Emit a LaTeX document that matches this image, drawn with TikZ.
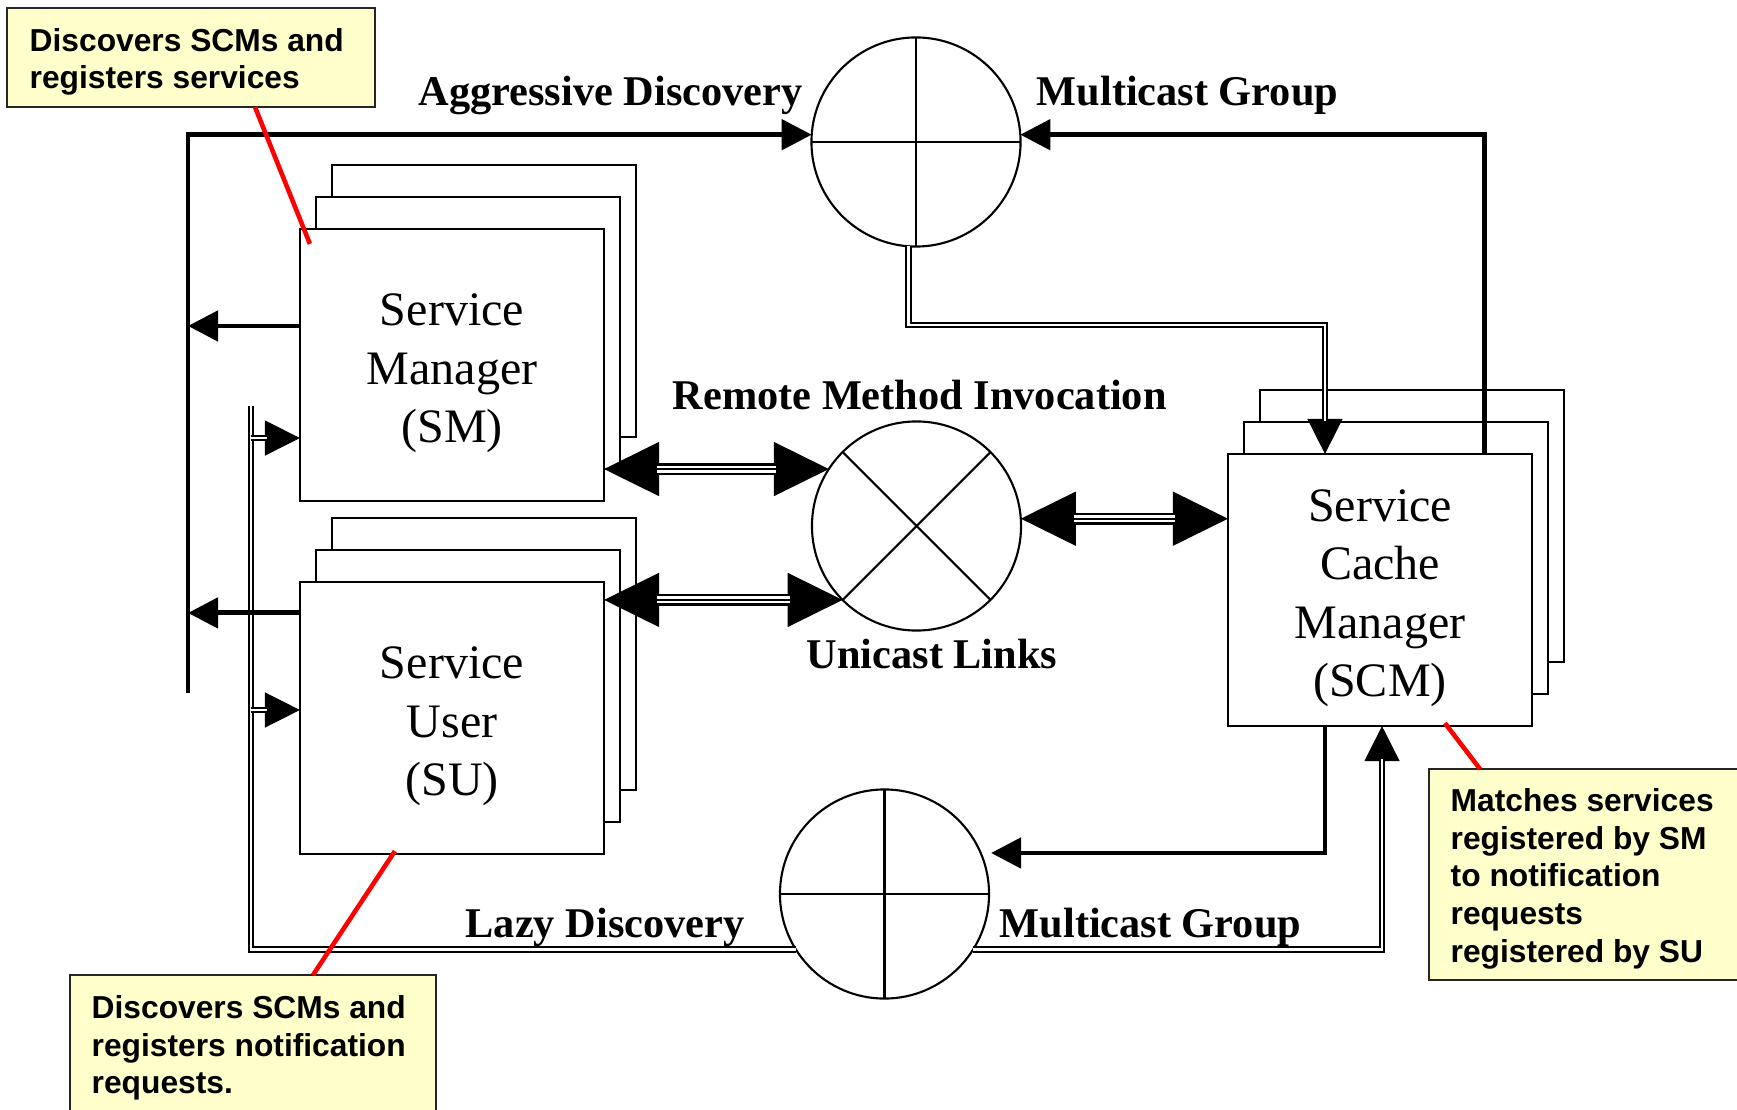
\documentclass[tikz,border=0pt]{standalone}
\usepackage{fontspec}
\setmainfont{Liberation Serif}
\newfontfamily\calloutfont{Liberation Sans}
\usetikzlibrary{arrows.meta,calc,backgrounds}
\definecolor{notefill}{HTML}{FFFFCC}
\newcommand\boxlift{\rule{0pt}{13.8pt}}
\begin{document}
\begin{tikzpicture}[x=0.01cm, y=-0.01cm,
  mainbox/.style={draw, fill=white, line width=0.6pt, minimum width=3.04cm, minimum height=2.72cm,
    inner sep=0pt, outer sep=0pt, align=center, font=\fontsize{13.66pt}{16.6pt}\selectfont},
  copybox/.style={draw, fill=white, line width=0.6pt},
  mcast/.style={circle, draw, fill=white, line width=0.6pt, minimum size=2.09cm, inner sep=0pt, outer sep=0pt},
  crossline/.style={line width=0.6pt},
  lbl/.style={inner sep=0pt, anchor=base west, font=\fontsize{12.04pt}{14pt}\selectfont\bfseries},
  notebox/.style={draw=black!85, fill=notefill, line width=0.5pt, anchor=north west, inner sep=0pt, outer sep=0pt},
  notetext/.style={anchor=north west, inner sep=0pt, align=left,
    font=\calloutfont\bfseries\fontsize{9.03pt}{10.8pt}\selectfont},
  redline/.style={draw=red, line width=1.3pt},
  thickarrow/.style={line width=1.4pt, -{Triangle[length=0.30cm, width=0.30cm]}},
  dbl/.style={double, double distance=0.71pt, line width=0.57pt},
  dbltip/.style={line width=0.4pt, -{Triangle[length=0.35cm, width=0.35cm]}},
  rmitip/.style={line width=0.4pt, {Triangle[length=0.55cm, width=0.54cm]}-{Triangle[length=0.55cm, width=0.54cm]}},
  rmishaft/.style={line width=3.4pt, shorten <=0.53cm, shorten >=0.53cm,
    postaction={draw=white, line width=2pt, shorten <=0.53cm, shorten >=0.53cm},
    postaction={draw=black, line width=0.57pt, shorten <=0.53cm, shorten >=0.53cm}},
]
\useasboundingbox (0,0) rectangle (1737,1110);

% main boxes
\node[mainbox] (sm) at (452,365) {\boxlift Service\\Manager\\(SM)};
\node[mainbox] (su) at (452,718) {\boxlift Service\\User\\(SU)};
\node[mainbox] (scm) at (1380,590) {\boxlift Service\\Cache\\Manager\\(SCM)};
\begin{scope}[on background layer]
  \fill[white] (0,0) rectangle (1737,1110);
  \foreach \b in {sm,su,scm}{
    \draw[copybox] ($(\b.south west)+(32,-64)$) rectangle ($(\b.north east)+(32,-64)$);
    \draw[copybox] ($(\b.south west)+(16,-32)$) rectangle ($(\b.north east)+(16,-32)$);
  }
\end{scope}

% multicast / unicast circles
\node[mcast] (tc) at (916,142) {};
\node[mcast] (mc) at (916.5,526) {};
\node[mcast] (lc) at (884.5,894) {};
\draw[crossline] (tc.north) -- (tc.south) (tc.west) -- (tc.east);
\draw[crossline] (mc.45) -- (mc.225) (mc.135) -- (mc.315);
\draw[crossline] (lc.north) -- (lc.south) (lc.west) -- (lc.east);

% labels
\node[lbl] (agg) at (418,106) {Aggressive Discovery};
\node[lbl] (mg1) at (1036,106) {Multicast Group};
\node[lbl] (rmi) at (672,410) {Remote Method Invocation};
\node[lbl] (uni) at (806,668) {Unicast Links};
\node[lbl] (lazy) at (465,937) {Lazy Discovery};
\node[lbl] (mg2) at (999,937) {Multicast Group};

% helper coordinates
\coordinate (barbot) at (188,693);
\coordinate (lazytop) at (251,406);
\coordinate (smout) at ([yshift=0.39cm]sm.west);
\coordinate (suout) at ([yshift=1.05cm]su.west);
\coordinate (smin) at ([yshift=-0.73cm]sm.west);
\coordinate (suin) at ([yshift=0.08cm]su.west);
\coordinate (scmin) at ([xshift=-0.55cm]scm.north);
\coordinate (scmout) at ([xshift=-0.55cm]scm.south);
\coordinate (scmup) at ([xshift=0.02cm]scm.south);
\coordinate (scmtop) at ([xshift=1.04cm]scm.north);

% lazy discovery double lines
\draw[dbl] (lc.212) -| (lazytop);
\draw[dbltip] (smin -| lazytop) -- (smin);
\draw[dbl, shorten >=0.33cm] (smin -| lazytop) -- (smin);
\draw[dbltip] (suin -| lazytop) -- (suin);
\draw[dbl, shorten >=0.33cm] (suin -| lazytop) -- (suin);
\draw[dbltip] (lc.328) -| (scmup);
\draw[dbl, shorten >=0.33cm] (lc.328) -| (scmup);

% top multicast group to SCM
\draw[dbltip] (tc.266) |- ([yshift=1.29cm]scmin) -- (scmin);
\draw[dbl, shorten >=0.33cm] (tc.266) |- ([yshift=1.29cm]scmin) -- (scmin);

% aggressive discovery thick lines
\draw[thickarrow] (barbot) |- (tc.176);
\draw[thickarrow] (scmtop) |- (tc.4);
\draw[thickarrow] (smout) -- (smout -| barbot);
\draw[thickarrow] (suout) -- (suout -| barbot);
\draw[thickarrow] (scmout) |- ([xshift=0.02cm, yshift=0.41cm]lc.east);

% remote method invocation
\draw[rmitip] (sm.east |- mc.147) -- (mc.147);
\draw[rmishaft] (sm.east |- mc.147) -- (mc.147);
\draw[rmitip] (su.east |- mc.225) -- (mc.225);
\draw[rmishaft] (su.east |- mc.225) -- (mc.225);
\draw[rmitip] (mc.4) -- (mc.4 -| scm.west);
\draw[rmishaft] (mc.4) -- (mc.4 -| scm.west);

% callouts
\node[notebox, minimum width=3.68cm, minimum height=0.99cm] (c1) at (7,8) {};
\node[notetext] (c1t) at (29,27.3) {Discovers SCMs and\\registers services};
\node[notebox, minimum width=3.2cm, minimum height=2.11cm] (c2) at (1429,769) {};
\node[notetext] (c2t) at (1450,787.3) {Matches services\\registered by SM\\to notification\\requests\\registered by SU};
\node[notebox, minimum width=3.66cm, minimum height=1.6cm] (c3) at (70,975) {};
\node[notetext] (c3t) at (91,994.3) {Discovers SCMs and\\registers notification\\requests.};

\draw[redline] ($(c1.south west)+(248,0)$) -- ($(sm.north west)+(10,15)$);
\draw[redline] ($(scm.south west)+(217,-3)$) -- ($(c2.north west)+(51,0)$);
\draw[redline] ($(su.south west)+(95,-3)$) -- ($(c3.north west)+(243,0)$);
\end{tikzpicture}
\end{document}
